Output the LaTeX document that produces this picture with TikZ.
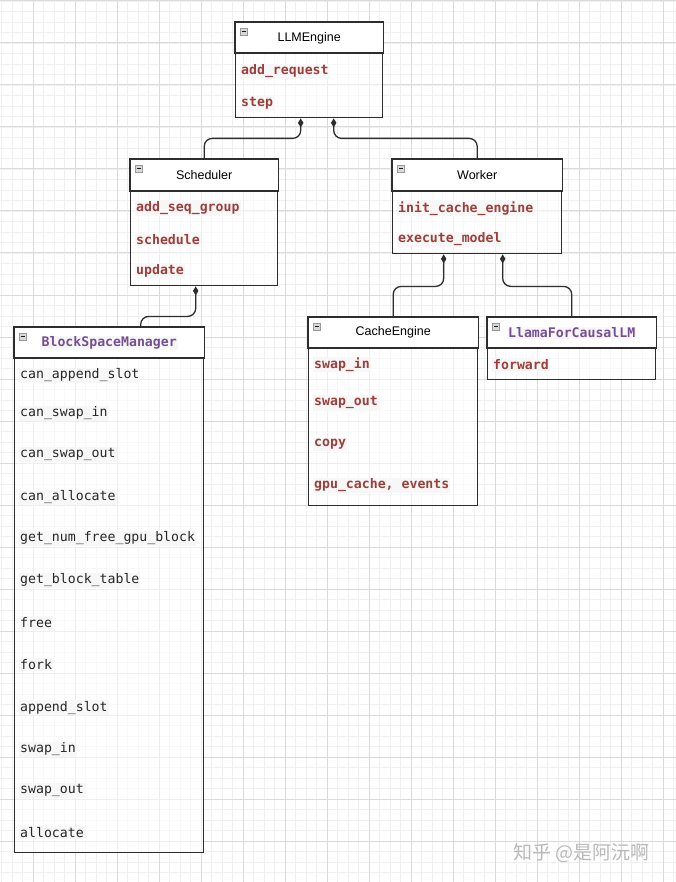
\documentclass[tikz,border=0pt]{standalone}
\usepackage{fontspec}
\setmainfont{Liberation Sans}
\newfontfamily\codefont{DejaVu Sans Mono}
\newfontfamily\cjkfont{Noto Sans CJK SC}
\usetikzlibrary{arrows.meta}
\definecolor{methred}{RGB}{158,62,58}
\definecolor{clspurple}{RGB}{118,78,150}
\definecolor{boxline}{RGB}{45,45,45}
\definecolor{gridminor}{RGB}{240,240,240}
\definecolor{gridmajor}{RGB}{218,218,218}
\tikzset{
  minorline/.style={draw=gridminor, line width=0.6pt},
  majorline/.style={draw=gridmajor, line width=1pt},
  umlbox/.style={draw=boxline, line width=1.4pt, fill=white, fill opacity=0.55, anchor=north west, inner sep=0pt},
  hdr/.style={draw=boxline, line width=1.4pt, fill=white},
  icon/.style={draw=gray!80, fill=gray!30, minimum size=7pt, inner sep=0pt, anchor=north west,
    path picture={\draw[gray!20!black, line width=0.8pt] ([xshift=1.6pt]path picture bounding box.west) -- ([xshift=-1.6pt]path picture bounding box.east);}},
  title/.style={font=\fontsize{12.5}{14}\selectfont, text=black},
  ctitle/.style={font=\codefont\bfseries\fontsize{13.2}{15}\selectfont, text=clspurple, fill=black!3, inner sep=1pt},
  meth/.style={font=\codefont\bfseries\fontsize{13.2}{15}\selectfont, text=methred, fill=black!3, inner sep=1pt, anchor=west, yshift=-1.5pt},
  plain/.style={font=\codefont\fontsize{13.2}{15}\selectfont, text=black!85, fill=black!3, inner sep=1pt, anchor=west, yshift=-1.5pt},
  comp/.style={draw=boxline, line width=1.3pt, rounded corners=8pt, arrows={Diamond[length=9pt,width=5.5pt]-}},
}
\begin{document}
\begin{tikzpicture}[x=1pt,y=-1pt]
\useasboundingbox (0,0) rectangle (676,882);
\fill[white] (0,0) rectangle (676,882);
% grid
\foreach \k in {0,...,64} \draw[minorline] ({1.5+10.5*\k},0) -- ({1.5+10.5*\k},882);
\foreach \k in {0,...,83} \draw[minorline] (0,{1+10.5*\k}) -- (676,{1+10.5*\k});
\foreach \k in {0,...,15} \draw[majorline] ({33+42*\k},0) -- ({33+42*\k},882);
\foreach \k in {0,...,20} \draw[majorline] (0,{1+42*\k}) -- (676,{1+42*\k});

% LLMEngine
\node[umlbox, minimum width=147pt, minimum height=95pt] (llm) at (235,22) {};
\draw[hdr] (llm.north west) rectangle ([yshift=-31pt]llm.north east);
\node[icon] (llmicon) at ([xshift=5pt,yshift=-6pt]llm.north west) {};
\node[title] (llmt) at ([yshift=-16pt]llm.north) {LLMEngine};
\node[meth] (llm1) at (240,70) {add\_request};
\node[meth] (llm2) at (240,102) {step};

% Scheduler
\node[umlbox, minimum width=147pt, minimum height=126pt] (sched) at (130,159) {};
\draw[hdr] (sched.north west) rectangle ([yshift=-32pt]sched.north east);
\node[icon] (schedicon) at ([xshift=5pt,yshift=-6pt]sched.north west) {};
\node[title] (schedt) at ([yshift=-16pt]sched.north) {Scheduler};
\node[meth] (sched1) at (135,207) {add\_seq\_group};
\node[meth] (sched2) at (135,238) {schedule};
\node[meth] (sched3) at (135,269) {update};

% Worker
\node[umlbox, minimum width=169pt, minimum height=94pt] (worker) at (392,159) {};
\draw[hdr] (worker.north west) rectangle ([yshift=-32pt]worker.north east);
\node[icon] (workericon) at ([xshift=5pt,yshift=-6pt]worker.north west) {};
\node[title] (workert) at ([yshift=-16pt]worker.north) {Worker};
\node[meth] (worker1) at (397,207) {init\_cache\_engine};
\node[meth] (worker2) at (397,238) {execute\_model};

% BlockSpaceManager
\node[umlbox, minimum width=189pt, minimum height=525pt] (bsm) at (14,327) {};
\draw[hdr] (bsm.north west) rectangle ([yshift=-31pt]bsm.north east);
\node[icon] (bsmicon) at ([xshift=5pt,yshift=-6pt]bsm.north west) {};
\node[ctitle] (bsmt) at ([yshift=-16pt]bsm.north) {BlockSpaceManager};
\node[plain] (b1) at (19,374) {can\_append\_slot};
\node[plain] (b2) at (19,412) {can\_swap\_in};
\node[plain] (b3) at (19,453) {can\_swap\_out};
\node[plain] (b4) at (19,496) {can\_allocate};
\node[plain] (b5) at (19,537) {get\_num\_free\_gpu\_block};
\node[plain] (b6) at (19,579) {get\_block\_table};
\node[plain] (b7) at (19,621) {free};
\node[plain] (b8) at (19,663) {fork};
\node[plain] (b9) at (19,706) {append\_slot};
\node[plain] (b10) at (19,748) {swap\_in};
\node[plain] (b11) at (19,789) {swap\_out};
\node[plain] (b12) at (19,831) {allocate};

% CacheEngine
\node[umlbox, minimum width=169pt, minimum height=188pt] (cache) at (308,317) {};
\draw[hdr] (cache.north west) rectangle ([yshift=-31pt]cache.north east);
\node[icon] (cacheicon) at ([xshift=5pt,yshift=-6pt]cache.north west) {};
\node[title] (cachet) at ([yshift=-15.5pt]cache.north) {CacheEngine};
\node[meth] (c1) at (313,363) {swap\_in};
\node[meth] (c2) at (313,401) {swap\_out};
\node[meth] (c3) at (313,443) {copy};
\node[meth] (c4) at (313,484) {gpu\_cache, events};

% LlamaForCausalLM
\node[umlbox, minimum width=168pt, minimum height=62pt] (llama) at (487,317) {};
\draw[hdr] (llama.north west) rectangle ([yshift=-31pt]llama.north east);
\node[icon] (llamaicon) at ([xshift=5pt,yshift=-6pt]llama.north west) {};
\node[ctitle] (llamat) at ([yshift=-16pt]llama.north) {LlamaForCausalLM};
\node[meth] (l1) at (492,363) {forward};

% connectors
\draw[comp] ([xshift=-8.5pt]llm.south) -- ++(0,20) -| (sched.north);
\draw[comp] ([xshift=24.5pt]llm.south) -- ++(0,20) -| (worker.north);
\draw[comp] ([xshift=-8.5pt]sched.south) -- ++(0,30) -| ([xshift=31.5pt]bsm.north);
\draw[comp] ([xshift=-33.5pt]worker.south) -- ++(0,32) -| (cache.north);
\draw[comp] ([xshift=25.5pt]worker.south) -- ++(0,32) -| (llama.north);

% watermark
\node[text=gray!55, font=\cjkfont\fontsize{19}{19}\selectfont, anchor=west] (wm) at (510,853) {知乎 @是阿沅啊};
\end{tikzpicture}
\end{document}
